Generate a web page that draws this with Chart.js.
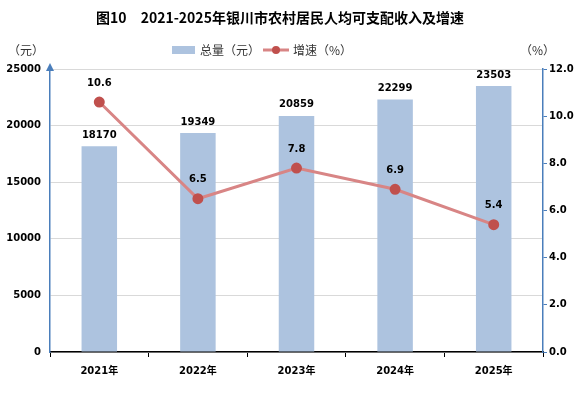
<!DOCTYPE html>
<html>
<head>
<meta charset="utf-8">
<script src="https://cdn.jsdelivr.net/npm/chart.js@4/dist/chart.umd.min.js"></script>
<style>
  html, body { margin: 0; padding: 0; background: #fff; }
  #wrap { width: 580px; height: 393px; }
</style>
</head>
<body>
<div id="wrap"><canvas id="chart" width="580" height="393"></canvas></div>
<script>
const years = ["2021年", "2022年", "2023年", "2024年", "2025年"];
const totals = [18170, 19349, 20859, 22299, 23503];
const growth = [10.6, 6.5, 7.8, 6.9, 5.4];
const leftTicks = [0, 5000, 10000, 15000, 20000, 25000];
const rightTicks = [0, 2, 4, 6, 8, 10, 12];

const numFont = "bold 10px 'DejaVu Sans', Verdana, sans-serif";
const cjkFont = "'Noto Sans CJK SC', sans-serif";

// title, legend, units, arrow and value labels
const decor = {
  id: "decor",
  afterDraw(chart) {
    const ctx = chart.ctx;
    const area = chart.chartArea;
    ctx.save();
    ctx.fillStyle = "#000";
    ctx.textBaseline = "middle";

    ctx.font = "bold 14px " + cjkFont;
    ctx.textAlign = "center";
    ctx.fillText("图10　2021-2025年银川市农村居民人均可支配收入及增速", 280, 18);

    ctx.font = "12px " + cjkFont;
    ctx.textAlign = "left";
    ctx.fillStyle = "#333";
    ctx.fillText("（元）", 8, 50);
    ctx.fillText("（%）", 520, 50);

    // legend
    ctx.fillStyle = "#adc3df";
    ctx.fillRect(172, 46, 23, 8);
    ctx.fillStyle = "#333";
    ctx.fillText("总量（元）", 200, 50);
    ctx.strokeStyle = "#d88585";
    ctx.lineWidth = 3;
    ctx.beginPath();
    ctx.moveTo(263, 50);
    ctx.lineTo(289, 50);
    ctx.stroke();
    ctx.fillStyle = "#c0504d";
    ctx.beginPath();
    ctx.arc(276, 50, 4, 0, Math.PI * 2);
    ctx.fill();
    ctx.fillStyle = "#333";
    ctx.fillText("增速（%）", 293, 50);

    // arrow on left axis
    ctx.fillStyle = "#4a7ebb";
    ctx.beginPath();
    ctx.moveTo(area.left, area.top - 6);
    ctx.lineTo(area.left - 4, area.top + 2);
    ctx.lineTo(area.left + 4, area.top + 2);
    ctx.closePath();
    ctx.fill();

    // value labels
    ctx.font = numFont;
    ctx.textAlign = "center";
    ctx.fillStyle = "#000";
    chart.getDatasetMeta(0).data.forEach((bar, i) => {
      ctx.fillText(String(totals[i]), bar.x, bar.y - 11);
    });
    chart.getDatasetMeta(1).data.forEach((pt, i) => {
      ctx.fillText(growth[i].toFixed(1), pt.x, pt.y - 19);
    });
    ctx.restore();
  }
};

new Chart(document.getElementById("chart"), {
  type: "bar",
  data: {
    labels: years,
    datasets: [
      {
        type: "bar",
        label: "总量（元）",
        data: totals,
        yAxisID: "y",
        backgroundColor: "#adc3df",
        barPercentage: 0.36,
        categoryPercentage: 1,
        order: 2,
      },
      {
        type: "line",
        label: "增速（%）",
        data: growth,
        yAxisID: "y1",
        borderColor: "#d88585",
        borderWidth: 3,
        pointRadius: 4,
        pointBackgroundColor: "#c0504d",
        pointBorderColor: "#c0504d",
        tension: 0,
        order: 1,
      },
    ],
  },
  options: {
    responsive: false,
    animation: false,
    layout: { padding: { top: 69, left: 0, right: 0, bottom: 0 } },
    plugins: { legend: { display: false }, title: { display: false }, tooltip: { enabled: false } },
    scales: {
      x: {
        offset: true,
        afterFit: (scale) => { scale.height = 41; },
        border: { color: "#000", width: 1.5 },
        grid: { offset: true, drawOnChartArea: false, tickLength: 5, color: "#000" },
        ticks: { color: "#000", font: { family: "'DejaVu Sans', " + cjkFont, size: 10, weight: "bold" }, padding: 8 },
      },
      y: {
        position: "left",
        min: 0,
        max: 25000,
        afterBuildTicks: (scale) => { scale.ticks = leftTicks.map((v) => ({ value: v })); },
        afterFit: (scale) => { scale.width = 50; },
        border: { color: "#4a7ebb", width: 1.5 },
        grid: { color: "#d9d9d9", tickLength: 0, drawTicks: false },
        ticks: {
          color: "#000",
          font: { family: "'DejaVu Sans', Verdana", size: 10, weight: "bold" },
          padding: 9,
          callback: (v) => String(v),
        },
      },
      y1: {
        position: "right",
        min: 0,
        max: 12,
        afterBuildTicks: (scale) => { scale.ticks = rightTicks.map((v) => ({ value: v })); },
        afterFit: (scale) => { scale.width = 37; },
        border: { color: "#4a7ebb", width: 1.5 },
        grid: { drawOnChartArea: false, tickLength: 4, color: "#4a7ebb" },
        ticks: {
          color: "#000",
          font: { family: "'DejaVu Sans', Verdana", size: 10, weight: "bold" },
          padding: 2,
          callback: (v) => Number(v).toFixed(1),
        },
      },
    },
  },
  plugins: [decor],
});
</script>
</body>
</html>
